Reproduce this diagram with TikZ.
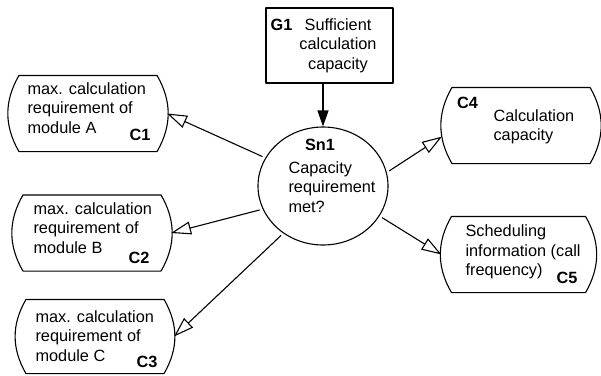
\documentclass[tikz,border=0pt]{standalone}
\usepackage{fontspec}
\setmainfont{Liberation Sans}
\usetikzlibrary{shapes.geometric,arrows.meta}

\begin{document}
\begin{tikzpicture}[x=1pt, y=-1pt, line width=1.1pt, line join=round,
    every node/.style={font=\fontsize{16.3}{19.5}\selectfont},
    goalbox/.style={draw, rectangle, minimum width=127pt, minimum height=75pt, inner sep=0pt},
    solution/.style={draw, ellipse, minimum width=130pt, minimum height=118pt, inner sep=0pt},
    context/.style={rectangle, minimum width=157pt, minimum height=75pt, inner sep=0pt},
    idlabel/.style={inner sep=0pt, font=\fontsize{16.3}{19.5}\selectfont\bfseries},
    plaintext/.style={inner sep=0pt, align=left},
    solarrow/.style={-{Triangle[length=16pt, width=11pt]}},
    ctxarrow/.style={-{Triangle[open, length=20pt, width=13pt]}, shorten <=3pt}]

    \useasboundingbox (0,0) rectangle (601,375);

    % Goal and solution
    \node (g1) [goalbox] at (329.5,45.5) {};
    \node (g1id) [idlabel] at (281.5,25) {G1};
    \node (g1txt) [plaintext, align=center] at (338,45.7) {Sufficient\\calculation\\capacity};

    \node (sn1) [solution] at (323,186) {};
    \node (sn1id) [idlabel] at (320,145) {Sn1};
    \node (sn1txt) [plaintext, anchor=west] at (288,187) {Capacity\\requirement\\met?};

    % Contexts
    \node (c1) [context] at (88,113.5) {};
    \node (c2) [context] at (92,233) {};
    \node (c3) [context, minimum height=73pt] at (95,336.5) {};
    \node (c4) [context] at (521,125.5) {};
    \node (c5) [context, minimum width=153pt] at (518.5,254.5) {};

    \foreach \c in {c1,c2,c3,c4,c5}
        \draw ([xshift=10pt]\c.north west) -- ([xshift=-10pt]\c.north east)
            to[bend left=30] ([xshift=-10pt]\c.south east) -- ([xshift=10pt]\c.south west)
            to[bend left=30] ([xshift=10pt]\c.north west);

    \node (c1txt) [plaintext, anchor=west] at (27,108) {max. calculation\\requirement of\\module A};
    \node (c1id) [idlabel] at (140,135) {C1};
    \node (c2txt) [plaintext, anchor=west] at (33,228) {max. calculation\\requirement of\\module B};
    \node (c2id) [idlabel] at (139,258) {C2};
    \node (c3txt) [plaintext, anchor=west] at (35,336) {max. calculation\\requirement of\\module C};
    \node (c3id) [idlabel] at (147,362) {C3};
    \node (c4txt) [plaintext, anchor=west] at (493,127) {Calculation\\capacity};
    \node (c4id) [idlabel] at (467.5,103) {C4};
    \node (c5txt) [plaintext, anchor=west] at (465,252) {Scheduling\\information (call\\frequency)};
    \node (c5id) [idlabel] at (567,278) {C5};

    % Arrows
    \draw [solarrow] (g1.south -| sn1.north) -- (sn1.north);
    \draw [ctxarrow] (sn1.154) -- (c1.east);
    \draw [ctxarrow] (sn1.201) -- (c2.east);
    \draw [ctxarrow] (sn1.230) -- (c3.east);
    \draw [ctxarrow] (sn1.12) -- (c4.188);
    \draw [ctxarrow] (sn1.332) -- (c5.west);

\end{tikzpicture}
\end{document}
